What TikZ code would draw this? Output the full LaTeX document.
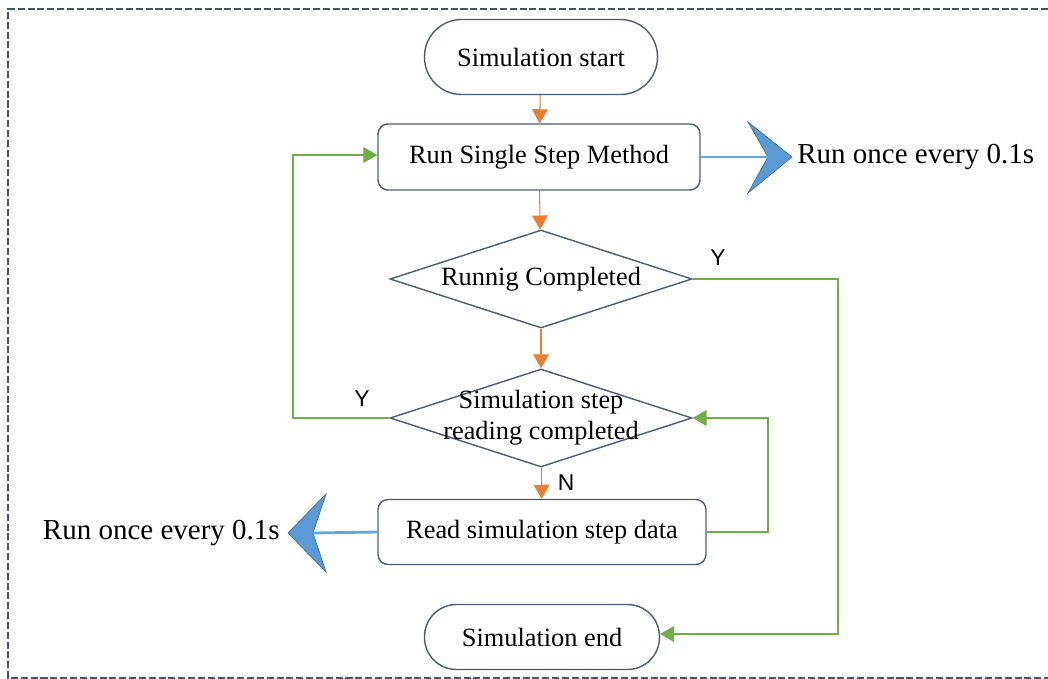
\documentclass[tikz,border=0pt]{standalone}
\usepackage{fontspec}
\setmainfont{Liberation Serif}
\newfontfamily\yesnofont{Liberation Sans}
\usetikzlibrary{arrows.meta, shapes.geometric}
\definecolor{boxline}{HTML}{4A5D78}
\definecolor{flowor}{HTML}{ED7D31}
\definecolor{loopgr}{HTML}{70AD47}
\definecolor{chevfill}{HTML}{5B9BD5}
\definecolor{chevline}{HTML}{41719C}
\definecolor{timeline}{HTML}{62A6E6}
\definecolor{framecol}{HTML}{3E5670}

\begin{document}
\begin{tikzpicture}[x=0.02cm, y=-0.02cm]
        \tikzset{terminal/.style = {shape=rectangle, draw=boxline, line width=0.8pt, minimum width=4.66cm, font=\fontsize{15}{17}\selectfont}}
        \tikzset{process/.style = {shape=rectangle, draw=boxline, line width=0.8pt, rounded corners=0.2cm, minimum height=1.32cm, font=\fontsize{15}{17}\selectfont}}
        \tikzset{decision/.style = {shape=diamond, aspect=3.1, draw=boxline, line width=0.8pt, inner sep=0pt, minimum width=6.04cm, minimum height=1.96cm, font=\fontsize{15}{17}\selectfont}}
        \tikzset{flow/.style = {draw=flowor, line width=0.6pt, -{Triangle[width=9pt,length=8pt]}}}
        \tikzset{loop/.style = {draw=loopgr, line width=1.1pt, -{Triangle[width=9pt,length=8pt]}}}
        \tikzset{timer/.style = {draw=timeline, line width=1.6pt}}
        \tikzset{chevron/.style = {fill=chevfill, draw=chevline, line width=0.4pt}}
        \tikzset{note/.style = {font=\fontsize{16.5}{18}\selectfont, inner sep=0pt}}
        \tikzset{yn/.style = {font=\yesnofont\fontsize{13}{14}\selectfont}}
        \useasboundingbox (0,0) rectangle (1048,679);
        \draw[framecol, line width=1.6pt, dash pattern=on 4pt off 1.6pt] (1048,9) -- (8,9) -- (8,678) -- (1048,678);

        \node[terminal, rounded corners=0.74cm, minimum height=1.5cm] (start) at (541,57) {Simulation start};
        \node[process, minimum width=6.44cm] (run) at (539,157) {Run Single Step Method};
        \node[decision] (done) at (541,279) {Runnig Completed};
        \node[decision, label={[align=center, font=\fontsize{15}{17.5}\selectfont]center:Simulation step\\reading completed}] (stepdone) at (541,418) {};
        \node[process, minimum width=6.56cm, minimum height=1.3cm] (read) at (542,532) {Read simulation step data};
        \node[terminal, rounded corners=0.64cm, minimum height=1.3cm, minimum width=4.7cm] (end) at (542,637) {Simulation end};

        \node[note, anchor=west] (runnote) at (797,157) {Run once every 0.1s};
        \node[note, anchor=east] (readnote) at (280,533) {Run once every 0.1s};

        % timing chevrons
        \coordinate (runnotch) at (768,157);
        \coordinate (readnotch) at (313,533);
        \draw[chevron] (748,122) -- (792,157) -- (748,193) -- (runnotch) -- cycle;
        \draw[chevron] (326,494) -- (288,533) -- (326,572) -- (readnotch) -- cycle;
        \draw[timer] (run.east) -- (runnotch);
        \draw[timer] (read.west) -- (readnotch);

        % main flow
        \draw[flow] (start) to (run);
        \draw[flow] (run) to (done);
        \draw[flow] (done) to (stepdone);
        \draw[flow] (stepdone) to (read);

        % loops
        \draw[loop] (done.east) -- (838,279) -- (838,634) -- (end.east |- 0,634);
        \draw[loop] (stepdone.west) -- (293,418) -- (293,155) -- (run.west |- 0,155);
        \draw[loop] (read.east) -- (768,532) -- (768,418) -- (stepdone.east);

        \node[yn] (ydone) at (718,258) {Y};
        \node[yn] (ystep) at (362,399) {Y};
        \node[yn] (nstep) at (566,483) {N};
      \end{tikzpicture}
\end{document}
